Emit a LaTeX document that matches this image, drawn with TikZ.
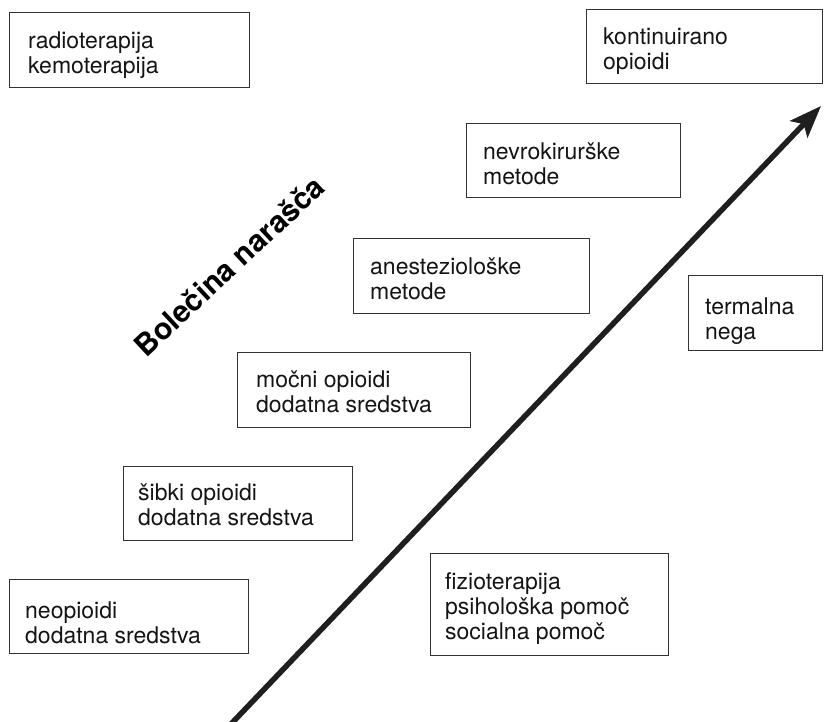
\documentclass[tikz,border=0pt]{standalone}
\usepackage{fontspec}
\setmainfont{TeX Gyre Heros}
\usetikzlibrary{arrows.meta}
\begin{document}
\begin{tikzpicture}[x=1pt,y=-1pt,
  box/.style={draw=black!80, line width=1.1pt, anchor=north west, inner sep=0pt},
  txt/.style={anchor=north west, inner sep=0pt, align=left, text=black!92,
    font=\fontsize{23}{25}\selectfont},
  lab/.style={inner sep=0pt, text=black, font=\bfseries\fontsize{30}{32}\selectfont},
  arrowline/.style={draw=black!88, line width=5.5pt,
    -{Stealth[length=32pt,width=24pt,inset=7pt]}}]
\useasboundingbox (0,0) rectangle (824,721);

% boxes
\node[box, minimum width=240pt, minimum height=75pt] (b1) at (9,12) {};
\node[txt] (t1) at (28,32) {radioterapija\\kemoterapija};

\node[box, minimum width=236pt, minimum height=74pt] (b2) at (586,9) {};
\node[txt] (t2) at (603,28) {kontinuirano\\opioidi};

\node[box, minimum width=214pt, minimum height=74pt] (b3) at (466,123) {};
\node[txt] (t3) at (483,143) {nevrokirurške\\metode};

\node[box, minimum width=236pt, minimum height=75pt] (b4) at (353,238) {};
\node[txt] (t4) at (370,258) {anesteziološke\\metode};

\node[box, minimum width=134pt, minimum height=75pt] (b5) at (688,275) {};
\node[txt] (t5) at (705,298) {termalna\\nega};

\node[box, minimum width=233pt, minimum height=75pt] (b6) at (237,352) {};
\node[txt] (t6) at (256,371) {močni opioidi\\dodatna sredstva};

\node[box, minimum width=229pt, minimum height=74pt] (b7) at (123,466) {};
\node[txt] (t7) at (138,483) {šibki opioidi\\dodatna sredstva};

\node[box, minimum width=238pt, minimum height=102pt] (b8) at (430,553) {};
\node[txt] (t8) at (445,572) {fizioterapija\\psihološka pomoč\\socialna pomoč};

\node[box, minimum width=239pt, minimum height=74pt] (b9) at (9,579) {};
\node[txt] (t9) at (25,602) {neopioidi\\dodatna sredstva};

% rotated label
\node[lab, rotate=43] (lab) at (229,266) {Bolečina narašča};

% arrow
\coordinate (as) at (231,724);
\coordinate (ae) at (821,106);
\draw[arrowline] (as) -- (ae);
\end{tikzpicture}
\end{document}
